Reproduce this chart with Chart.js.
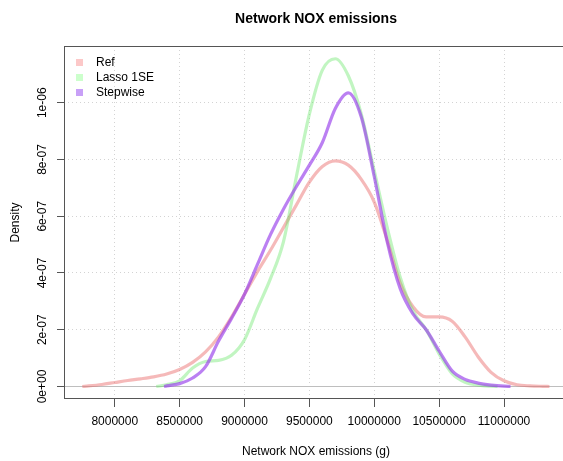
<!DOCTYPE html>
<html>
<head>
<meta charset="utf-8">
<script src="https://cdn.jsdelivr.net/npm/chart.js@4.4.0/dist/chart.umd.min.js"></script>
<style>
  html, body { margin: 0; padding: 0; background: #fff; overflow: hidden; }
  canvas { display: block; }
</style>
</head>
<body>
<canvas id="densityChart" width="600" height="461"></canvas>
<script>
// valores (densidad por emisiones NOX en gramos)
const refX = [7750000, 7800000, 7900000, 8000000, 8100000, 8200000, 8300000, 8400000, 8500000, 8600000,
  8700000, 8800000, 8900000, 9000000, 9100000, 9200000, 9300000, 9400000, 9500000, 9600000,
  9700000, 9800000, 9900000, 10000000, 10100000, 10200000, 10300000, 10400000, 10500000, 10600000,
  10700000, 10800000, 10900000, 11000000, 11100000, 11200000, 11300000, 11350000];
const refY = [0, 0.02e-7, 0.07e-7, 0.14e-7, 0.21e-7, 0.27e-7, 0.34e-7, 0.44e-7, 0.6e-7, 0.85e-7,
  1.22e-7, 1.75e-7, 2.45e-7, 3.25e-7, 4.05e-7, 4.8e-7, 5.6e-7, 6.4e-7, 7.2e-7, 7.75e-7,
  7.95e-7, 7.8e-7, 7.3e-7, 6.5e-7, 5.15e-7, 3.65e-7, 2.8e-7, 2.45e-7, 2.45e-7, 2.3e-7,
  1.75e-7, 1.05e-7, 0.5e-7, 0.2e-7, 0.06e-7, 0.02e-7, 0.005e-7, 0];

const lassoX = [8320000, 8400000, 8500000, 8600000, 8700000, 8800000, 8900000, 9000000, 9100000, 9200000,
  9300000, 9400000, 9500000, 9600000, 9700000, 9800000, 9900000, 10000000, 10100000, 10200000,
  10300000, 10400000, 10500000, 10600000, 10700000, 10800000, 10900000, 10950000];
const lassoY = [0, 0.06e-7, 0.2e-7, 0.65e-7, 0.88e-7, 0.92e-7, 1.1e-7, 1.65e-7, 2.75e-7, 3.8e-7,
  5.1e-7, 7.4e-7, 9.6e-7, 11.15e-7, 11.55e-7, 10.95e-7, 9.6e-7, 7.6e-7, 5.6e-7, 3.85e-7,
  2.65e-7, 2.0e-7, 1.15e-7, 0.45e-7, 0.15e-7, 0.05e-7, 0.01e-7, 0];

const stepX = [8380000, 8400000, 8500000, 8600000, 8700000, 8800000, 8900000, 9000000, 9100000, 9200000,
  9300000, 9400000, 9500000, 9600000, 9700000, 9800000, 9900000, 10000000, 10100000, 10200000,
  10300000, 10400000, 10500000, 10600000, 10700000, 10800000, 10900000, 11000000, 11050000];
const stepY = [0, 0.02e-7, 0.1e-7, 0.3e-7, 0.7e-7, 1.6e-7, 2.4e-7, 3.25e-7, 4.3e-7, 5.35e-7,
  6.25e-7, 7.05e-7, 7.8e-7, 8.6e-7, 9.8e-7, 10.35e-7, 9.5e-7, 7.4e-7, 5.1e-7, 3.45e-7,
  2.55e-7, 2.0e-7, 1.25e-7, 0.55e-7, 0.25e-7, 0.12e-7, 0.05e-7, 0.01e-7, 0];

const seriesNames = ['Ref', 'Lasso 1SE', 'Stepwise'];
const seriesColors = ['rgba(233,100,100,0.45)', 'rgba(100,230,100,0.4)', 'rgba(150,60,235,0.65)'];
const legendColors = ['#fcc8c8', '#ccffcc', '#c8a0f7'];

const xTicks = [8000000, 8500000, 9000000, 9500000, 10000000, 10500000, 11000000];
const yTicks = [0, 2e-7, 4e-7, 6e-7, 8e-7, 1e-6];
const yTickLabels = ['0e+00', '2e-07', '4e-07', '6e-07', '8e-07', '1e-06'];

const FONT = "'Liberation Sans', Arial, sans-serif";

function pairs(xs, ys) {
  return xs.map((x, i) => ({ x: x, y: ys[i] }));
}

// estilo de grafico base de R: caja, linea en cero, etiquetas y leyenda
const rStyle = {
  id: 'rStyle',
  beforeDatasetsDraw(chart) {
    const { ctx, chartArea } = chart;
    const y0 = Math.round(chart.scales.y.getPixelForValue(0)) + 0.5;
    ctx.save();
    ctx.strokeStyle = '#bebebe';
    ctx.lineWidth = 1;
    ctx.beginPath();
    ctx.moveTo(chartArea.left, y0);
    ctx.lineTo(chartArea.right, y0);
    ctx.stroke();
    ctx.restore();
  },
  afterDraw(chart) {
    const { ctx, chartArea } = chart;
    ctx.save();
    // caja
    ctx.strokeStyle = '#555';
    ctx.lineWidth = 1;
    ctx.strokeRect(chartArea.left + 0.5, chartArea.top + 0.5,
      chartArea.right - chartArea.left - 1, chartArea.bottom - chartArea.top - 1);

    // titulo
    ctx.fillStyle = '#000';
    ctx.font = 'bold 14px ' + FONT;
    ctx.textAlign = 'center';
    ctx.textBaseline = 'middle';
    ctx.fillText('Network NOX emissions', (chartArea.left + chartArea.right) / 2, 19);

    // etiquetas del eje y, giradas
    ctx.font = '12px ' + FONT;
    yTicks.forEach((v, i) => {
      const py = chart.scales.y.getPixelForValue(v);
      ctx.save();
      ctx.translate(43, py);
      ctx.rotate(-Math.PI / 2);
      ctx.fillText(yTickLabels[i], 0, 0);
      ctx.restore();
    });

    // leyenda
    ctx.textAlign = 'left';
    seriesNames.forEach((name, i) => {
      const cy = 62.5 + i * 15;
      ctx.fillStyle = legendColors[i];
      ctx.fillRect(76, cy - 3.5, 7, 7);
      ctx.fillStyle = '#000';
      ctx.fillText(name, 96, cy);
    });
    ctx.restore();
  }
};

const ctx = document.getElementById('densityChart').getContext('2d');
const chart = new Chart(ctx, {
  type: 'line',
  data: {
    datasets: [
      { label: seriesNames[0], data: pairs(refX, refY), borderColor: seriesColors[0], order: 3 },
      { label: seriesNames[1], data: pairs(lassoX, lassoY), borderColor: seriesColors[1], order: 2 },
      { label: seriesNames[2], data: pairs(stepX, stepY), borderColor: seriesColors[2], order: 1 }
    ]
  },
  options: {
    responsive: false,
    animation: false,
    layout: { padding: { top: 46, left: 0, right: 32, bottom: 0 } },
    elements: {
      line: { borderWidth: 3.2, cubicInterpolationMode: 'monotone', fill: false },
      point: { radius: 0 }
    },
    plugins: {
      legend: { display: false },
      tooltip: { enabled: false }
    },
    scales: {
      x: {
        type: 'linear',
        min: 7609000,
        max: 11493000,
        afterFit: (s) => { s.height = 62; },
        afterBuildTicks: (s) => { s.ticks = xTicks.map(v => ({ value: v })); },
        ticks: {
          callback: (v) => String(v),
          font: { family: FONT, size: 12 },
          color: '#000',
          padding: 7,
          maxRotation: 0,
          autoSkip: false
        },
        grid: { color: '#d3d3d3', lineWidth: 1, tickLength: 8, tickColor: '#555', tickWidth: 1 },
        border: { display: false, dash: [1, 3] },
        title: {
          display: true,
          text: 'Network NOX emissions (g)',
          font: { family: FONT, size: 12 },
          color: '#000',
          padding: { top: 0, bottom: 2 }
        }
      },
      y: {
        type: 'linear',
        min: -4.41e-8,
        max: 1.2e-6,
        afterFit: (s) => { s.width = 64; },
        afterBuildTicks: (s) => { s.ticks = yTicks.map(v => ({ value: v })); },
        ticks: { display: false },
        grid: { color: '#d3d3d3', lineWidth: 1, tickLength: 7, tickColor: '#555', tickWidth: 1 },
        border: { display: false, dash: [1, 3] },
        title: {
          display: true,
          text: 'Density',
          font: { family: FONT, size: 12 },
          color: '#000',
          padding: { top: 8, bottom: 0 }
        }
      }
    }
  },
  plugins: [rStyle]
});
</script>
</body>
</html>
